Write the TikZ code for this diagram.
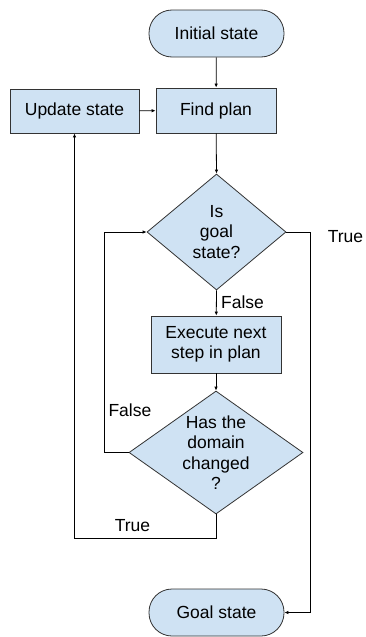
\documentclass[tikz,border=0pt]{standalone}
\usepackage{fontspec}
\setmainfont{Liberation Sans}
\usetikzlibrary{arrows.meta}
\usetikzlibrary{shapes.geometric}
\usetikzlibrary{positioning}

\definecolor{boxblue}{HTML}{CFE2F3}
\definecolor{boxline}{HTML}{333333}

\begin{document}
\begin{tikzpicture}[x=1pt,y=-1pt,
        every node/.style={font=\fontsize{17.5}{20.5}\selectfont},
        box/.style={draw=boxline,fill=boxblue,line width=0.8pt,rectangle,inner sep=0pt,align=center},
        pill/.style={box,rounded corners=23pt},
        dia/.style={draw=boxline,fill=boxblue,line width=0.8pt,diamond,inner sep=0pt},
        conn/.style={draw,line width=0.8pt,-{Latex[length=4pt,width=3.5pt]}}]
        \useasboundingbox (0,0) rectangle (366,637);

        \node [pill,minimum width=135pt,minimum height=47pt] (init) at (216.5,33.5) {Initial state};
        \node [box,minimum width=120pt,minimum height=45pt] (plan) at (216,110.5) {Find plan};
        \node [box,minimum width=129pt,minimum height=44pt] (update) at (74.5,111) {Update state};

        \node [dia,minimum width=139pt,minimum height=116pt] (isgoal) at (216.5,232) {};
        \node [align=center] at (isgoal) {Is\\goal\\state?};

        \node [box,minimum width=130pt,minimum height=57pt] (exec) at (216,344.5) {Execute next\\step in plan};

        \node [dia,minimum width=174pt,minimum height=123pt] (changed) at (216,452.5) {};
        \node [align=center] at (changed) {Has the\\domain\\changed\\?};

        \node [pill,minimum width=135pt,minimum height=47pt] (final) at (216.5,612.5) {Goal state};

        \path [conn] (init) -- (plan);
        \path [conn] (update) -- (plan);
        \path [conn] (plan) -- (isgoal.north);
        \path [conn] (isgoal.south) -- node [right,xshift=1pt,yshift=1pt] {False} (exec);
        \path [conn] (exec) -- (changed.north);

        % loops back
        \path [conn] (changed.west) -- ++(-24,0) |- (isgoal.west);
        \path [conn] (changed.south) -- ++(0,24) -| (update.south);
        \path [conn] (isgoal.east) -- ++(24,0) |- (final.east);

        \node [anchor=west] at (105,410) {False};
        \node at (132.5,526) {True};
        \node at (345.5,237) {True};
    \end{tikzpicture}
\end{document}
